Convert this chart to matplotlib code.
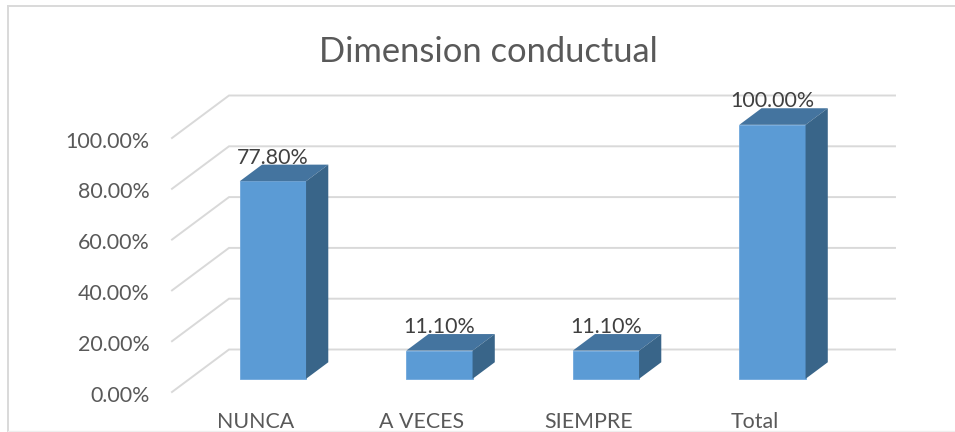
import matplotlib
matplotlib.use("Agg")
import matplotlib.pyplot as plt
from matplotlib.lines import Line2D
from matplotlib.patches import Polygon
from matplotlib.transforms import ScaledTranslation

plt.rcParams['font.family'] = ['Lato', 'DejaVu Sans']

categories = ["NUNCA", "A VECES", "SIEMPRE", "Total"]
values = [77.8, 11.1, 11.1, 100.0]
y_ticks = [0, 20, 40, 60, 80, 100]
y_tick_labels = ["0.00%", "20.00%", "40.00%", "60.00%", "80.00%", "100.00%"]
value_labels = ["77.80%", "11.10%", "11.10%", "100.00%"]
title = "Dimension conductual"

W, H = 955, 432
GRID = "#d9d9d9"
FRONT = "#5b9bd5"
TOP = "#44749f"
SIDE = "#396589"

fig = plt.figure(figsize=(W / 100, H / 100), dpi=100)
# front plane of the fake 3D box, in pixels
left, right, y0, y100 = 172, 838, 392, 138
ax = fig.add_axes([left / W, 1 - y0 / H, (right - left) / W, (y0 - y100) / H])
ax.set_xlim(-0.5, 3.5)
ax.set_ylim(0, 100)
ax.patch.set_visible(False)
for s in ax.spines.values():
    s.set_visible(False)

px_x = 4 / (right - left)
px_y = 100 / (y0 - y100)
depth_x = 57 * px_x
depth_y = 42.5 * px_y
bar_front = 0.31
bar_back = 0.70
bar_w = 0.398


def project(x, y, d):
    return x + d * depth_x, y + d * depth_y


# walls
for t in y_ticks:
    p0 = project(-0.5, t, 0)
    p1 = project(-0.5, t, 1)
    p2 = project(3.5, t, 1)
    ax.plot([p0[0], p1[0], p2[0]], [p0[1], p1[1], p2[1]], color=GRID, lw=1.4,
            clip_on=False, zorder=1, solid_joinstyle="miter")

# bars
for i, v in enumerate(values):
    xa = i - bar_w / 2
    xb = i + bar_w / 2
    fx, fy = project(xa, 0, bar_front)
    ax.bar(fx, v, width=bar_w, bottom=fy, align="edge", color=FRONT, edgecolor="#70a8dc",
           linewidth=0.6, clip_on=False, zorder=3)
    top = [project(xa, v, bar_front), project(xb, v, bar_front),
           project(xb, v, bar_back), project(xa, v, bar_back)]
    side = [project(xb, 0, bar_front), project(xb, v, bar_front),
            project(xb, v, bar_back), project(xb, 0, bar_back)]
    ax.add_patch(Polygon(top, closed=True, facecolor=TOP, edgecolor="none", clip_on=False, zorder=3))
    ax.add_patch(Polygon(side, closed=True, facecolor=SIDE, edgecolor="none", clip_on=False, zorder=3))
    lx, ly = project(i, v, bar_front)
    ax.annotate(value_labels[i], xy=(lx, ly), xytext=(0, 17), textcoords="offset points",
                ha="center", va="center", fontsize=15.4, color="#404040", zorder=2,
                annotation_clip=False)

ax.set_yticks(y_ticks)
ax.set_yticklabels(y_tick_labels, fontsize=15.4, color="#595959")
ax.tick_params(axis="y", length=0, pad=16)
shift = ScaledTranslation(0, -1.5 / 100, fig.dpi_scale_trans)
for lab in ax.get_yticklabels():
    lab.set_transform(lab.get_transform() + shift)
ax.set_xticks(range(len(categories)))
ax.set_xticklabels(categories, fontsize=15.4, color="#595959")
ax.tick_params(axis="x", length=0, pad=14.5)

fig.text(488 / W, 1 - 52.5 / H, title, ha="center", va="center", fontsize=24.8, color="#595959")

# chart frame, right side runs off the picture
fig.add_artist(Line2D([8 / W, 8 / W], [0, 1 - 6 / H], color=GRID, lw=1.4))
fig.add_artist(Line2D([8 / W, 1], [1 - 6 / H, 1 - 6 / H], color=GRID, lw=1.4))
fig.add_artist(Line2D([8 / W, 1], [1 - 431 / H, 1 - 431 / H], color="#eeeeee", lw=1))

fig.savefig("out.png", dpi=100)
